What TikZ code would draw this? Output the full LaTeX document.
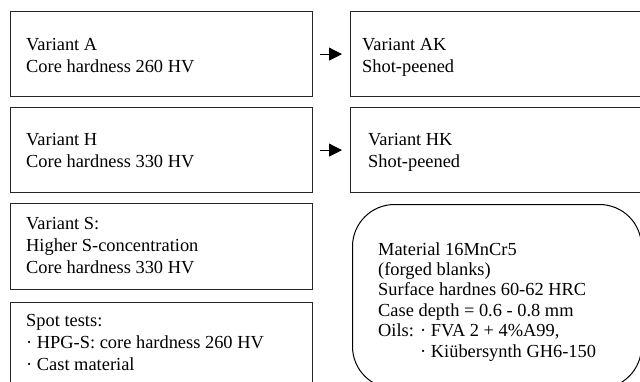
\documentclass[tikz,border=0pt]{standalone}
\usepackage{fontspec}
\setmainfont{Liberation Serif}
\usetikzlibrary{arrows.meta}
\begin{document}
\begin{tikzpicture}[x=1bp,y=-1bp,
  box/.style={draw=black!85, line width=1.2bp, anchor=north west, inner sep=0pt},
  txt/.style={anchor=base west, align=left, inner sep=0pt, font=\fontsize{18.4bp}{21.8bp}\selectfont},
  mtxt/.style={anchor=base west, align=left, inner sep=0pt, font=\fontsize{18.4bp}{20.4bp}\selectfont},
  arr/.style={line width=1.1bp, -{Triangle[length=13bp,width=13bp]}}]
\useasboundingbox (0,0) rectangle (640,381);
\clip (0,0) rectangle (640,381);
% left column
\node[box, minimum width=302bp, minimum height=85bp] (A) at (10,11) {};
\node[box, minimum width=302bp, minimum height=85bp] (H) at (10,107) {};
\node[box, minimum width=302bp, minimum height=86bp] (S) at (10,203) {};
\node[box, minimum width=302bp, minimum height=100bp] (T) at (10,302) {};
% right column
\node[box, minimum width=300bp, minimum height=85bp] (AK) at (350,11) {};
\node[box, minimum width=300bp, minimum height=85bp] (HK) at (350,107) {};
\node[draw=black, line width=1bp, rounded corners=42bp, anchor=north west, inner sep=0pt,
      minimum width=289bp, minimum height=184bp] (M) at (352,204) {};
% texts (base anchor = baseline of last line)
\node[txt] (tA) at (26,72) {Variant A\\Core hardness 260 HV};
\node[txt] (tH) at (26,167) {Variant H\\Core hardness 330 HV};
\node[txt] (tS) at (26,273) {Variant S:\\Higher S-concentration\\Core hardness 330 HV};
\node[txt] (tT) at (26,370) {Spot tests:\\· HPG-S: core hardness 260 HV\\· Cast material};
\node[txt] (tAK) at (362,72) {Variant AK\\Shot-peened};
\node[txt] (tHK) at (368,167) {Variant HK\\Shot-peened};
\node[mtxt] (tM) at (378,357) {Material 16MnCr5\\(forged blanks)\\Surface hardnes 60-62 HRC\\Case depth = 0.6 - 0.8 mm\\Oils: · FVA 2 + 4\%A99,\\\hspace*{42bp}· Kiübersynth GH6-150};
% arrows
\draw[arr] ([xshift=7bp]A.east) -- ([xshift=-8bp]AK.west);
\draw[arr] ([xshift=7bp]H.east) -- ([xshift=-8bp]HK.west);
\end{tikzpicture}
\end{document}
